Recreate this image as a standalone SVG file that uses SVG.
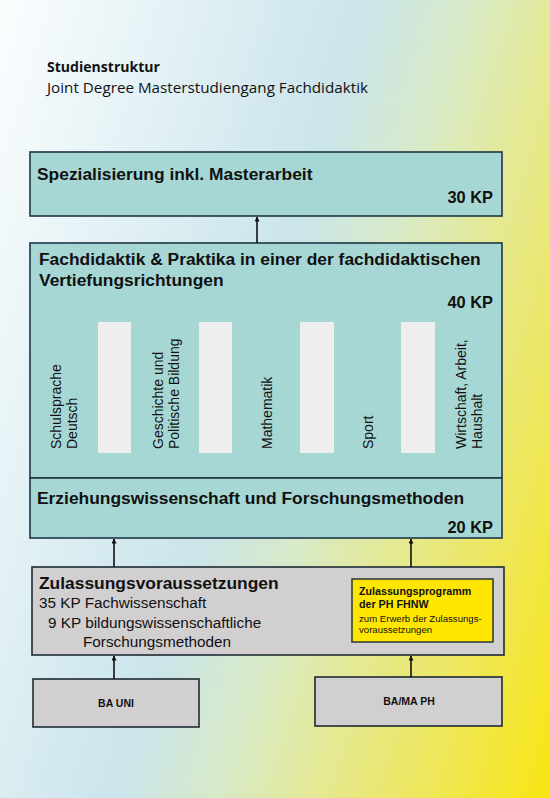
<svg xmlns="http://www.w3.org/2000/svg" width="550" height="798" viewBox="0 0 550 798">
  <defs>
    <linearGradient id="bg" gradientUnits="userSpaceOnUse" x1="0" y1="0" x2="728" y2="228">
      <stop offset="0" stop-color="#fbfdfe"/>
      <stop offset="0.2" stop-color="#e6f3f6"/>
      <stop offset="0.39" stop-color="#d1e8ee"/>
      <stop offset="0.46" stop-color="#cbe5eb"/>
      <stop offset="0.59" stop-color="#d8eac6"/>
      <stop offset="0.69" stop-color="#e3e99a"/>
      <stop offset="0.84" stop-color="#eee75c"/>
      <stop offset="1" stop-color="#f8e512"/>
    </linearGradient>
    <marker id="ah" viewBox="0 0 10 10" refX="9" refY="5" markerWidth="5" markerHeight="5" orient="auto" markerUnits="userSpaceOnUse">
      <path d="M0,0 L10,5 L0,10 Z" fill="#111"/>
    </marker>
    <style>
      .teal { fill: #a6d7d4; stroke: #1d3646; stroke-width: 1.6; }
      .grey { fill: #d2cfd0; stroke: #1d2a33; stroke-width: 1.6; }
      .bar { fill: #eeeeee; }
      .h { font-family: "Liberation Sans", Arial, sans-serif; font-weight: bold; font-size: 17.4px; fill: #111; }
      .kp { font-family: "Liberation Sans", Arial, sans-serif; font-weight: bold; font-size: 16.4px; fill: #111; text-anchor: end; }
      .r { font-family: "Liberation Sans", Arial, sans-serif; font-size: 14px; fill: #111; }
      .n { font-family: "Liberation Sans", Arial, sans-serif; font-size: 15.3px; fill: #111; }
      .yb { font-family: "Liberation Sans", Arial, sans-serif; font-weight: bold; font-size: 10.7px; fill: #111; }
      .ys { font-family: "Liberation Sans", Arial, sans-serif; font-size: 9.6px; fill: #111; }
      .small { font-family: "Liberation Sans", Arial, sans-serif; font-weight: bold; font-size: 10.5px; fill: #111; text-anchor: middle; }
      .title { font-family: "Open Sans", "Noto Sans", sans-serif; font-size: 14.5px; fill: #111; }
      .conn { stroke: #111; stroke-width: 1.6; fill: none; marker-end: url(#ah); }
    </style>
  </defs>

  <rect x="0" y="0" width="550" height="798" fill="url(#bg)"/>

  <g id="title">
    <text class="title" x="47" y="72" font-weight="bold" textLength="113" lengthAdjust="spacingAndGlyphs">Studienstruktur</text>
    <text class="title" x="47" y="93" textLength="321" lengthAdjust="spacingAndGlyphs">Joint Degree Masterstudiengang Fachdidaktik</text>
  </g>

  <g id="spezialisierung">
    <rect class="teal" x="30" y="152" width="472" height="64"/>
    <text class="h" x="37" y="180">Spezialisierung inkl. Masterarbeit</text>
    <text class="kp" x="493" y="203">30 KP</text>
  </g>

  <g id="fachdidaktik">
    <rect class="teal" x="30" y="243" width="472" height="235"/>
    <text class="h" x="39" y="265">Fachdidaktik &amp; Praktika in einer der fachdidaktischen</text>
    <text class="h" x="39" y="286">Vertiefungsrichtungen</text>
    <text class="kp" x="493" y="308">40 KP</text>
    <rect class="bar" x="98" y="322" width="33" height="131"/>
    <rect class="bar" x="199" y="322" width="33" height="131"/>
    <rect class="bar" x="300" y="322" width="34" height="131"/>
    <rect class="bar" x="401" y="322" width="34" height="131"/>
    <text class="r" transform="translate(61,449) rotate(-90)">Schulsprache</text>
    <text class="r" transform="translate(77,449) rotate(-90)">Deutsch</text>
    <text class="r" transform="translate(162.5,449) rotate(-90)">Geschichte und</text>
    <text class="r" transform="translate(178.5,449) rotate(-90)">Politische Bildung</text>
    <text class="r" transform="translate(272,449) rotate(-90)">Mathematik</text>
    <text class="r" transform="translate(372.5,449) rotate(-90)">Sport</text>
    <text class="r" transform="translate(466,449) rotate(-90)">Wirtschaft, Arbeit,</text>
    <text class="r" transform="translate(482,449) rotate(-90)">Haushalt</text>
  </g>

  <g id="erziehungswissenschaft">
    <rect class="teal" x="30" y="478" width="472" height="60"/>
    <text class="h" x="37" y="504">Erziehungswissenschaft und Forschungsmethoden</text>
    <text class="kp" x="493" y="533">20 KP</text>
  </g>

  <g id="zulassung">
    <rect class="grey" x="32" y="567" width="472" height="88"/>
    <text class="h" x="39" y="589">Zulassungsvoraussetzungen</text>
    <text class="n" x="39" y="608">35 KP Fachwissenschaft</text>
    <text class="n" x="48" y="628">9 KP bildungswissenschaftliche</text>
    <text class="n" x="83" y="647">Forschungsmethoden</text>
  </g>

  <g id="zulassungsprogramm">
    <rect x="352" y="579" width="141" height="63" fill="#ffe600" stroke="#1d2a33" stroke-width="1.4"/>
    <text class="yb" x="359" y="595">Zulassungsprogramm</text>
    <text class="yb" x="359" y="608">der PH FHNW</text>
    <text class="ys" x="359" y="622">zum Erwerb der Zulassungs-</text>
    <text class="ys" x="359" y="633">voraussetzungen</text>
  </g>

  <g id="ba-uni">
    <rect class="grey" x="33" y="679" width="166" height="48"/>
    <text class="small" x="116" y="707">BA UNI</text>
  </g>

  <g id="ba-ma-ph">
    <rect class="grey" x="315" y="677" width="187" height="49"/>
    <text class="small" x="409" y="705">BA/MA PH</text>
  </g>

  <g id="connectors">
    <line class="conn" x1="257" y1="243" x2="257" y2="217"/>
    <line class="conn" x1="114" y1="567" x2="114" y2="539"/>
    <line class="conn" x1="411" y1="567" x2="411" y2="539"/>
    <line class="conn" x1="114" y1="679" x2="114" y2="656"/>
    <line class="conn" x1="411" y1="677" x2="411" y2="656"/>
  </g>
</svg>
